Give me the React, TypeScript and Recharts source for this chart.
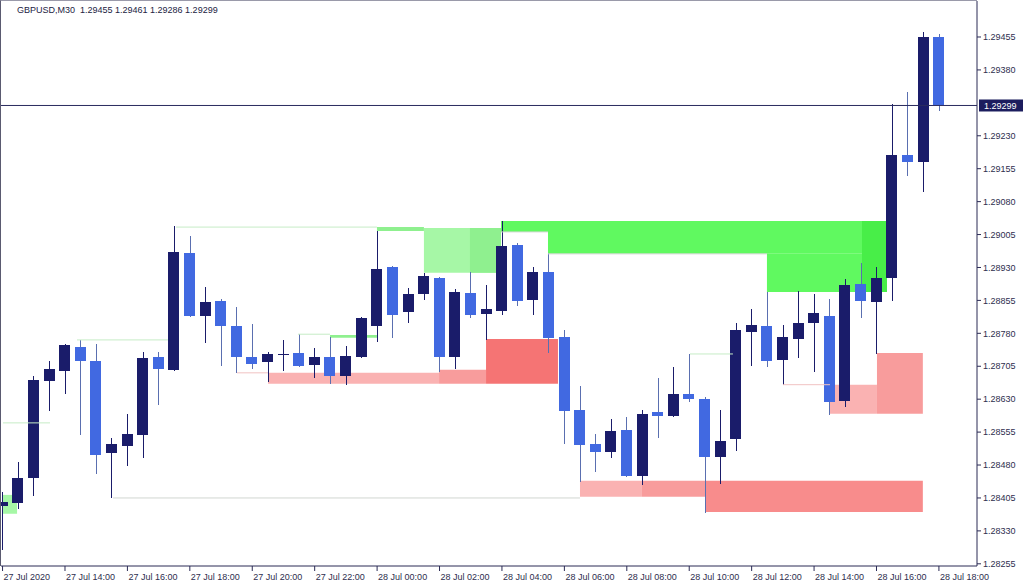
import { ComposedChart, Bar, XAxis, YAxis, ReferenceArea, ReferenceLine } from "recharts";

const W = 1024;
const H = 585;
const FONT = "'Liberation Sans', Arial, sans-serif";
const TEXT = "#2e2e4e";
const AXIS = "#2b2b55";
const BULL = "#1a1c6a";
const BEAR = "#4169e1";
const BEAR_WICK = "#5a6fb0";

const TITLE = "GBPUSD,M30  1.29455 1.29461 1.29286 1.29299";

// OHLC, one bar every 30 minutes starting 27 Jul 12:00
const opens = [
  1.28387, 1.28394, 1.2845, 1.28671, 1.28694, 1.28749, 1.28717, 1.28507, 1.28523, 1.28548,
  1.28726, 1.28696, 1.28963, 1.28819, 1.28854, 1.28797, 1.28726, 1.28715, 1.28732, 1.28735,
  1.28708, 1.28726, 1.28683, 1.28726, 1.28797, 1.28931, 1.28829, 1.2887, 1.28906, 1.28726,
  1.28872, 1.28824, 1.28831, 1.28981, 1.28856, 1.2892, 1.28772, 1.28605, 1.28528, 1.2851,
  1.2856, 1.28455, 1.28601, 1.28592, 1.28642, 1.2863, 1.28498, 1.28539, 1.28783, 1.28797,
  1.28719, 1.28767, 1.28804, 1.28819, 1.28626, 1.28892, 1.28851, 1.28906, 1.29186, 1.2917,
  1.29455,
];
const highs = [
  1.28419, 1.28487, 1.28683, 1.28717, 1.28755, 1.28765, 1.28756, 1.28542, 1.28596, 1.28737,
  1.28737, 1.29024, 1.29002, 1.28886, 1.28858, 1.2884, 1.28801, 1.28737, 1.28765, 1.28778,
  1.28747, 1.28772, 1.28751, 1.28817, 1.29013, 1.28933, 1.28883, 1.28917, 1.28908, 1.28881,
  1.2892, 1.2889, 1.29036, 1.28986, 1.28931, 1.28963, 1.28788, 1.2866, 1.28551, 1.28585,
  1.28589, 1.28605, 1.28678, 1.28703, 1.28733, 1.28635, 1.28605, 1.28804, 1.28835, 1.28874,
  1.28799, 1.28876, 1.2887, 1.28858, 1.28904, 1.2894, 1.28931, 1.29302, 1.2933, 1.29466,
  1.29461,
];
const lows = [
  1.28286, 1.2838, 1.28409, 1.28603, 1.28642, 1.28548, 1.2846, 1.28405, 1.28478, 1.28496,
  1.28617, 1.28694, 1.28817, 1.28758, 1.28706, 1.2869, 1.28699, 1.28669, 1.28694, 1.28703,
  1.28678, 1.28665, 1.28662, 1.28724, 1.2876, 1.28769, 1.28804, 1.28856, 1.28692, 1.28699,
  1.28815, 1.28765, 1.28822, 1.28842, 1.28822, 1.28735, 1.28528, 1.28441, 1.28464, 1.28496,
  1.28452, 1.28434, 1.28542, 1.2859, 1.28624, 1.28371, 1.28437, 1.28512, 1.28706, 1.28703,
  1.28662, 1.28724, 1.28692, 1.28594, 1.28612, 1.28815, 1.28733, 1.28854, 1.29138, 1.29102,
  1.29286,
];
const closes = [
  1.28396, 1.2845, 1.28674, 1.28699, 1.28753, 1.28717, 1.28503, 1.28528, 1.28551, 1.28724,
  1.28699, 1.28965, 1.28819, 1.28851, 1.28797, 1.28726, 1.2871, 1.28733, 1.28734, 1.28706,
  1.28726, 1.28683, 1.28728, 1.28815, 1.28927, 1.28822, 1.2887, 1.28911, 1.28726, 1.28874,
  1.28822, 1.28835, 1.28979, 1.28854, 1.2892, 1.28769, 1.28603, 1.28526, 1.2851, 1.28558,
  1.28455, 1.28596, 1.28592, 1.28642, 1.2863, 1.28498, 1.28535, 1.28788, 1.28799, 1.28717,
  1.28772, 1.28804, 1.28826, 1.28624, 1.2889, 1.28854, 1.28906, 1.29186, 1.2917, 1.29455,
  1.29299,
];

const xTickIndex = [0, 4, 8, 12, 16, 20, 24, 28, 32, 36, 40, 44, 48, 52, 56, 60];
const xTickLabels = [
  "27 Jul 2020", "27 Jul 14:00", "27 Jul 16:00", "27 Jul 18:00", "27 Jul 20:00", "27 Jul 22:00",
  "28 Jul 00:00", "28 Jul 02:00", "28 Jul 04:00", "28 Jul 06:00", "28 Jul 08:00", "28 Jul 10:00",
  "28 Jul 12:00", "28 Jul 14:00", "28 Jul 16:00", "28 Jul 18:00",
];
const yTicks = [
  1.29455, 1.2938, 1.2923, 1.29155, 1.2908, 1.29005, 1.2893, 1.28855, 1.2878, 1.28705,
  1.2863, 1.28555, 1.2848, 1.28405, 1.2833, 1.28255,
];
const lastPrice = 1.29299;

// zones: [fromBar, toBar, upper, lower, tone]
const greenZones: [number, number, number, number, string][] = [
  [0.03, 0.93, 1.28412, 1.28369, "pale"],
  [27.0, 31.94, 1.2902, 1.28918, "pale"],
  [29.95, 31.94, 1.2902, 1.28918, "soft"],
  [23.99, 27.0, 1.29022, 1.29013, "soft"],
  [20.98, 23.99, 1.28776, 1.2877, "soft"],
  [31.94, 56.67, 1.29036, 1.29011, "bright"],
  [34.95, 56.67, 1.29011, 1.28961, "bright"],
  [48.98, 56.67, 1.28961, 1.28874, "bright"],
  [55.07, 56.67, 1.29036, 1.28874, "deep"],
];
const redZones: [number, number, number, number, string][] = [
  [17.01, 27.97, 1.2869, 1.28665, "pale"],
  [27.97, 30.98, 1.28697, 1.28665, "mid"],
  [30.98, 35.59, 1.28767, 1.28665, "dark"],
  [37.0, 40.97, 1.28444, 1.28408, "pale"],
  [40.97, 45.07, 1.28444, 1.28408, "mid"],
  [45.07, 58.97, 1.28444, 1.28373, "deep"],
  [53.02, 56.03, 1.28663, 1.28597, "pale"],
  [56.03, 58.97, 1.28735, 1.28597, "mid"],
];
// level lines: [fromBar, toBar, price, tone]
const levelLines: [number, number, number, string][] = [
  [0.03, 3.04, 1.28576, "green"],
  [4.77, 10.6, 1.28765, "green"],
  [7.08, 37.0, 1.28405, "grey"],
  [11.12, 23.99, 1.29022, "green"],
  [15.02, 17.01, 1.2869, "pink"],
  [18.93, 20.98, 1.28778, "green"],
  [44.05, 46.8, 1.28733, "green"],
  [50.01, 53.02, 1.28663, "pink"],
  [31.94, 34.95, 1.29011, "grey"],
  [34.95, 48.98, 1.28961, "grey"],
];

const greenTone: Record<string, string> = {
  pale: "#a6f7a6",
  soft: "#8ff08f",
  bright: "#60f960",
  deep: "#48ee48",
};
const redTone: Record<string, string> = {
  pale: "#fab2b2",
  mid: "#f89c9c",
  deep: "#f88c8c",
  dark: "#f57474",
};
const lineTone: Record<string, string> = {
  green: "#c6ecc6",
  pink: "#f1c2c2",
  grey: "#d2d6d2",
};

const data = opens.map((o, i) => ({
  i,
  open: o,
  high: highs[i],
  low: lows[i],
  close: closes[i],
  range: [lows[i], highs[i]],
}));

function Candle(props: any) {
  const { x, y, width, height, payload } = props;
  if (x == null || y == null || !payload) return null;
  const { open, close, high, low } = payload;
  const top = Math.min(y, y + height);
  const h = Math.abs(height);
  const k = high - low === 0 ? 0 : h / (high - low);
  const yOf = (p: number) => top + (high - p) * k;
  const bull = close >= open;
  const cx = Math.round(x + width / 2) + 0.5;
  const bTop = Math.round(yOf(Math.max(open, close)));
  const bBot = Math.round(yOf(Math.min(open, close)));
  return (
    <g>
      <line
        x1={cx}
        x2={cx}
        y1={Math.round(top)}
        y2={Math.round(top + h)}
        stroke={bull ? BULL : BEAR_WICK}
        strokeWidth={1}
      />
      <rect
        x={Math.round(x)}
        y={bTop}
        width={Math.round(width)}
        height={Math.max(1, bBot - bTop)}
        fill={bull ? BULL : BEAR}
      />
    </g>
  );
}

function TimeTick(props: any) {
  const { x, y, payload } = props;
  const idx = xTickIndex.indexOf(payload.value);
  return (
    <text x={x + 1} y={y + 9} textAnchor="start" fontSize={9} fill={TEXT} fontFamily={FONT}>
      {idx >= 0 ? xTickLabels[idx] : ""}
    </text>
  );
}

function PriceTag(props: any) {
  const vb = props.viewBox || {};
  const left = (vb.x ?? 0) + (vb.width ?? 0) + 2;
  const cy = vb.y ?? 0;
  return (
    <g>
      <rect x={left} y={cy - 6} width={44} height={12} fill="#1c1d5e" />
      <text x={left + 5} y={cy + 3.5} fontSize={9} fill="#ffffff" fontFamily={FONT}>
        {lastPrice.toFixed(5)}
      </text>
    </g>
  );
}

export default function App() {
  return (
    <div style={{ position: "relative", width: W, height: H, background: "#fff", fontFamily: FONT }}>
      <style>{"body{margin:0}"}</style>
      <ComposedChart width={W} height={H} data={data} margin={{ top: 1, right: 0, bottom: 0, left: 1 }}>
        <XAxis
          dataKey="i"
          type="number"
          domain={[-0.1, 62.44]}
          allowDataOverflow
          ticks={xTickIndex}
          interval={0}
          tick={<TimeTick />}
          tickSize={5}
          tickMargin={0}
          tickLine={{ stroke: AXIS }}
          axisLine={{ stroke: AXIS }}
          height={19}
        />
        <YAxis
          orientation="right"
          type="number"
          domain={[1.2825, 1.29537]}
          allowDataOverflow
          ticks={yTicks}
          interval={0}
          width={47}
          tickSize={4}
          tickMargin={2}
          tickFormatter={(v: number) => v.toFixed(5)}
          tick={{ fill: TEXT, fontSize: 9, fontFamily: FONT }}
          tickLine={{ stroke: AXIS }}
          axisLine={{ stroke: AXIS }}
        />

        {greenZones.map(([a, b, hi, lo, tone], k) => (
          <ReferenceArea
            key={"g" + k}
            x1={a}
            x2={b}
            y1={lo}
            y2={hi}
            fill={greenTone[tone]}
            fillOpacity={1}
            stroke="none"
            ifOverflow="hidden"
          />
        ))}
        {redZones.map(([a, b, hi, lo, tone], k) => (
          <ReferenceArea
            key={"r" + k}
            x1={a}
            x2={b}
            y1={lo}
            y2={hi}
            fill={redTone[tone]}
            fillOpacity={1}
            stroke="none"
            ifOverflow="hidden"
          />
        ))}
        {levelLines.map(([a, b, p, tone], k) => (
          <ReferenceLine
            key={"l" + k}
            segment={[
              { x: a, y: p },
              { x: b, y: p },
            ]}
            stroke={lineTone[tone]}
            strokeWidth={1}
            ifOverflow="hidden"
          />
        ))}

        <ReferenceLine y={lastPrice} stroke="#2a2b5e" strokeWidth={1} label={<PriceTag />} />

        <Bar dataKey="range" shape={<Candle />} barSize={11} isAnimationActive={false} />
      </ComposedChart>
      <div
        style={{
          position: "absolute",
          left: 0,
          top: 0,
          width: 977,
          height: 566,
          borderLeft: "1px solid #5a5a70",
          borderTop: "1px solid #9a9aaa",
          boxSizing: "border-box",
          pointerEvents: "none",
        }}
      />
      <div
        style={{
          position: "absolute",
          left: 17,
          top: 4,
          fontSize: 9,
          lineHeight: "12px",
          color: "#22223f",
          whiteSpace: "pre",
        }}
      >
        {TITLE}
      </div>
    </div>
  );
}
